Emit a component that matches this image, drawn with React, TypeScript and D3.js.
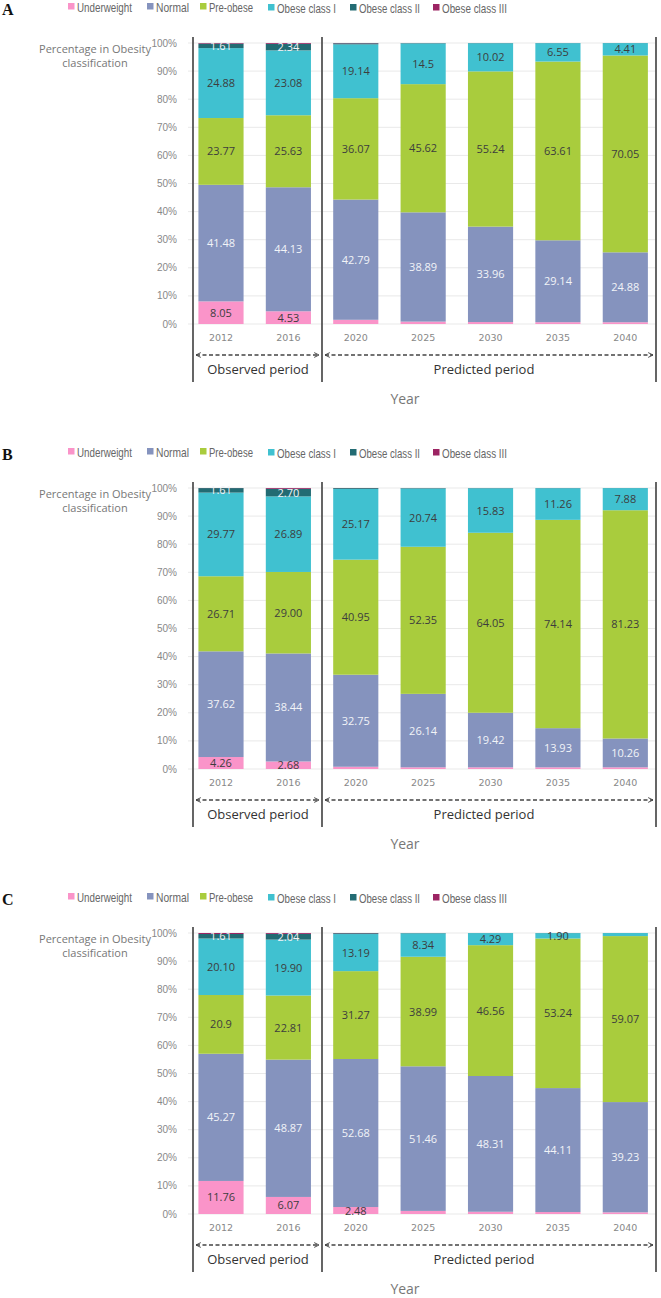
import React from "react";
import * as d3 from "d3";

const years = ["2012", "2016", "2020", "2025", "2030", "2035", "2040"];
const categories = ["Underweight", "Normal", "Pre-obese", "Obese class I", "Obese class II", "Obese class III"];
const colors = ["#fa94c9", "#8593be", "#a9cc3d", "#40c1d0", "#226b73", "#9c2463"];
const yTicks = [0, 10, 20, 30, 40, 50, 60, 70, 80, 90, 100];

// values per year: [Underweight, Normal, Pre-obese, Obese I, Obese II, Obese III]
const panelA = [
  [8.05, 41.48, 23.77, 24.88, 1.61, 0.21],
  [4.53, 44.13, 25.63, 23.08, 2.34, 0.29],
  [1.5, 42.79, 36.07, 19.14, 0.4, 0.1],
  [0.85, 38.89, 45.62, 14.5, 0.12, 0.02],
  [0.7, 33.96, 55.24, 10.02, 0.07, 0.01],
  [0.65, 29.14, 63.61, 6.55, 0.04, 0.01],
  [0.63, 24.88, 70.05, 4.41, 0.02, 0.01],
];
const labelsA = [
  ["8.05", "41.48", "23.77", "24.88", "1.61", ""],
  ["4.53", "44.13", "25.63", "23.08", "2.34", ""],
  ["", "42.79", "36.07", "19.14", "", ""],
  ["", "38.89", "45.62", "14.5", "", ""],
  ["", "33.96", "55.24", "10.02", "", ""],
  ["", "29.14", "63.61", "6.55", "", ""],
  ["", "24.88", "70.05", "4.41", "", ""],
];
const panelB = [
  [4.26, 37.62, 26.71, 29.77, 1.61, 0.03],
  [2.68, 38.44, 29.0, 26.89, 2.7, 0.29],
  [0.8, 32.75, 40.95, 25.17, 0.3, 0.03],
  [0.6, 26.14, 52.35, 20.74, 0.15, 0.02],
  [0.6, 19.42, 64.05, 15.83, 0.09, 0.01],
  [0.6, 13.93, 74.14, 11.26, 0.06, 0.01],
  [0.6, 10.26, 81.23, 7.88, 0.02, 0.01],
];
const labelsB = [
  ["4.26", "37.62", "26.71", "29.77", "1.61", ""],
  ["2.68", "38.44", "29.00", "26.89", "2.70", ""],
  ["", "32.75", "40.95", "25.17", "", ""],
  ["", "26.14", "52.35", "20.74", "", ""],
  ["", "19.42", "64.05", "15.83", "", ""],
  ["", "13.93", "74.14", "11.26", "", ""],
  ["", "10.26", "81.23", "7.88", "", ""],
];
const panelC = [
  [11.76, 45.27, 20.9, 20.1, 1.61, 0.36],
  [6.07, 48.87, 22.81, 19.9, 2.04, 0.31],
  [2.48, 52.68, 31.27, 13.19, 0.3, 0.08],
  [1.1, 51.46, 38.99, 8.34, 0.1, 0.01],
  [0.8, 48.31, 46.56, 4.29, 0.04, 0.0],
  [0.7, 44.11, 53.24, 1.9, 0.05, 0.0],
  [0.6, 39.23, 59.07, 1.08, 0.02, 0.0],
];
const labelsC = [
  ["11.76", "45.27", "20.9", "20.10", "1.61", ""],
  ["6.07", "48.87", "22.81", "19.90", "2.04", ""],
  ["2.48", "52.68", "31.27", "13.19", "", ""],
  ["", "51.46", "38.99", "8.34", "", ""],
  ["", "48.31", "46.56", "4.29", "", ""],
  ["", "44.11", "53.24", "1.90", "", ""],
  ["", "39.23", "59.07", "", "", ""],
];
const panelLetters = ["A", "B", "C"];
const panels = [panelA, panelB, panelC];
const panelLabels = [labelsA, labelsB, labelsC];

const W = 661;
const H = 1298;
const PANEL_STEP = 445;
const legendX = [68, 147, 200, 268, 350, 433];
const legendTextW = [55, 33, 44, 59, 61, 65];

const x = d3.scaleBand<string>().domain(years).range([187.3, 659]).paddingInner(0.33).paddingOuter(0.165);

function Panel({ idx }: { idx: number }) {
  const oy = idx * PANEL_STEP;
  const data = panels[idx];
  const labs = panelLabels[idx];
  const y = d3.scaleLinear().domain([0, 100]).range([oy + 324, oy + 43]);
  const stack = d3
    .stack<number[]>()
    .keys(categories.map((_, i) => String(i)))
    .value((d, k) => d[+k]);
  const series = stack(data);
  const sepXs = [193, 322, 656];
  const arrowY = oy + 355;
  const textDark = "#3d3d3d";
  return (
    <g>
      <text x={2} y={oy + 15} fontFamily="Liberation Serif, serif" fontWeight="bold" fontSize={16} fill="#111">
        {panelLetters[idx]}
      </text>
      {categories.map((c, i) => (
        <g key={c}>
          <rect x={legendX[i]} y={oy + 3 + (i >= 3 ? 1 : 0)} width={6.5} height={6.5} fill={colors[i]} />
          <text
            x={legendX[i] + 9}
            y={oy + 11.5 + (i >= 3 ? 1.5 : 0)}
            fontFamily="Liberation Sans, Arial, sans-serif"
            fontSize={13}
            fill="#666"
            textLength={legendTextW[i]}
            lengthAdjust="spacingAndGlyphs"
          >
            {c}
          </text>
        </g>
      ))}
      <text textAnchor="middle" fontFamily="Open Sans, sans-serif" fontSize={11} fill="#777">
        <tspan x={95} y={oy + 53}>Percentage in Obesity</tspan>
        <tspan x={95} y={oy + 67}>classification</tspan>
      </text>
      {yTicks.map((t) => (
        <g key={t}>
          <line x1={188} x2={656} y1={y(t)} y2={y(t)} stroke="#e9e9e9" strokeWidth={1} />
          <text
            x={177}
            y={y(t) + 3.5}
            textAnchor="end"
            fontFamily="Liberation Sans, Arial, sans-serif"
            fontSize={10}
            fill="#888"
          >
            {t}%
          </text>
        </g>
      ))}
      {series.map((s, si) =>
        s.map((d, di) => (
          <rect
            key={`${si}-${di}`}
            x={x(years[di])}
            width={x.bandwidth()}
            y={y(d[1])}
            height={Math.max(0, y(d[0]) - y(d[1]))}
            fill={colors[si]}
          />
        ))
      )}
      {series.map((s, si) =>
        s.map((d, di) => {
          const l = labs[di][si];
          if (!l) return null;
          const cy = (y(d[0]) + y(d[1])) / 2;
          const light = si === 1 || si === 4;
          return (
            <text
              key={`l${si}-${di}`}
              x={(x(years[di]) as number) + x.bandwidth() / 2}
              y={cy + 4}
              textAnchor="middle"
              fontFamily="Open Sans, sans-serif"
              fontSize={11}
              fill={light ? "#f2f4f8" : textDark}
            >
              {l}
            </text>
          );
        })
      )}
      {years.map((yr) => (
        <text
          key={yr}
          x={(x(yr) as number) + x.bandwidth() / 2}
          y={oy + 341}
          textAnchor="middle"
          fontFamily="DejaVu Sans, sans-serif"
          fontSize={9.5}
          fill="#888"
        >
          {yr}
        </text>
      ))}
      {sepXs.map((sx) => (
        <line key={sx} x1={sx} x2={sx} y1={oy + 37} y2={oy + 382} stroke="#555" strokeWidth={1.8} />
      ))}
      <line
        x1={196}
        x2={319}
        y1={arrowY}
        y2={arrowY}
        stroke="#444"
        strokeWidth={1.5}
        strokeDasharray="4,2.5"
        markerStart="url(#arrL)"
        markerEnd="url(#arrR)"
      />
      <line
        x1={325}
        x2={653}
        y1={arrowY}
        y2={arrowY}
        stroke="#444"
        strokeWidth={1.5}
        strokeDasharray="4,2.5"
        markerStart="url(#arrL)"
        markerEnd="url(#arrR)"
      />
      <text x={258} y={oy + 374} textAnchor="middle" fontFamily="Open Sans, sans-serif" fontSize={13} fill="#333">
        Observed period
      </text>
      <text x={484} y={oy + 374} textAnchor="middle" fontFamily="Open Sans, sans-serif" fontSize={13} fill="#333">
        Predicted period
      </text>
      <text x={405} y={oy + 404} textAnchor="middle" fontFamily="Open Sans, sans-serif" fontSize={14} fill="#777">
        Year
      </text>
    </g>
  );
}

export default function App() {
  return (
    <svg
      width={W}
      height={H}
      viewBox={`0 0 ${W} ${H}`}
      style={{ position: "absolute", left: 0, top: 0, background: "#fff" }}
    >
      <defs>
        <marker id="arrR" viewBox="0 0 10 10" refX={9} refY={5} markerWidth={6} markerHeight={6} orient="auto" markerUnits="userSpaceOnUse">
          <path d="M1,1 L9,5 L1,9" fill="none" stroke="#444" strokeWidth={1.6} />
        </marker>
        <marker id="arrL" viewBox="0 0 10 10" refX={1} refY={5} markerWidth={6} markerHeight={6} orient="auto" markerUnits="userSpaceOnUse">
          <path d="M9,1 L1,5 L9,9" fill="none" stroke="#444" strokeWidth={1.6} />
        </marker>
      </defs>
      <rect x={0} y={0} width={W} height={H} fill="#fff" />
      {[0, 1, 2].map((i) => (
        <Panel key={i} idx={i} />
      ))}
    </svg>
  );
}
